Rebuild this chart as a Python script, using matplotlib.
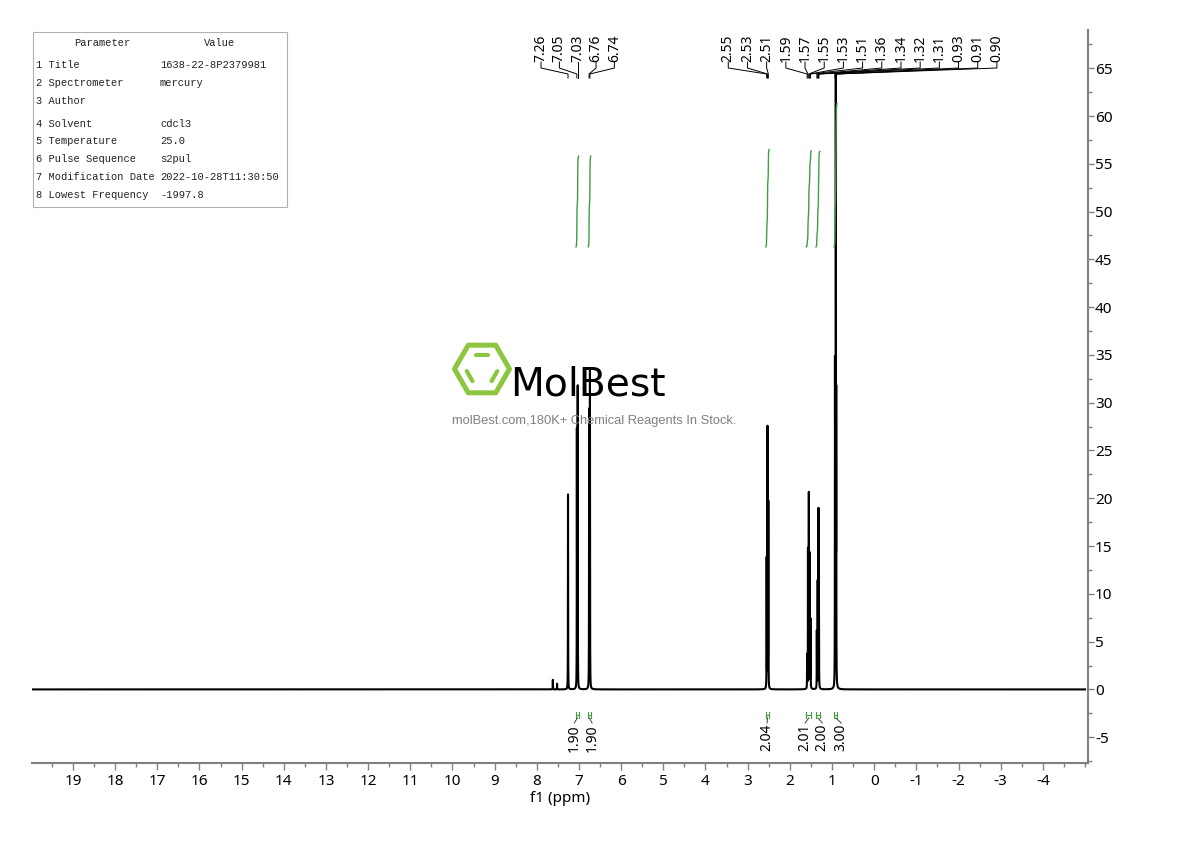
import numpy as np
import matplotlib
matplotlib.use("Agg")
import matplotlib.pyplot as plt
from matplotlib import font_manager
from matplotlib.patches import Polygon, Rectangle
from matplotlib.ticker import MultipleLocator, FixedLocator

plt.rcParams["axes.unicode_minus"] = False

# peak list (ppm, apparent height)
peak_ppm = [7.62, 7.52, 7.26, 7.05, 7.03, 6.76, 6.74,
            2.55, 2.53, 2.51,
            1.59, 1.57, 1.55, 1.53, 1.51,
            1.36, 1.34, 1.32, 1.31,
            0.93, 0.91, 0.90]
peak_height = [1.0, 0.6, 20.4, 27.0, 31.5, 29.0, 33.0,
               13.5, 27.2, 19.4,
               3.5, 14.5, 20.3, 14.0, 7.2,
               6.0, 11.1, 18.4, 9.6,
               34.0, 62.6, 28.8]

# peak picking labels
label_group1 = [7.26, 7.05, 7.03, 6.76, 6.74]
label_group2 = [2.55, 2.53, 2.51, 1.59, 1.57, 1.55, 1.53, 1.51,
                1.36, 1.34, 1.32, 1.31, 0.93, 0.91, 0.90]

# integrals
int_from = [7.07, 6.78, 2.57, 1.61, 1.38, 0.95]
int_to = [7.01, 6.72, 2.49, 1.49, 1.29, 0.88]
int_value = [1.90, 1.90, 2.04, 2.01, 2.00, 3.00]

# parameter table
param_names = ["1 Title", "2 Spectrometer", "3 Author", "4 Solvent", "5 Temperature",
               "6 Pulse Sequence", "7 Modification Date", "8 Lowest Frequency"]
param_values = ["1638-22-8P2379981", "mercury", "", "cdcl3", "25.0",
                "s2pul", "2022-10-28T11:30:50", "-1997.8"]

W, H = 1190, 841
fig = plt.figure(figsize=(W / 100, H / 100), dpi=100)
ax = fig.add_axes([32 / W, 1 - 763 / H, (1088 - 32) / W, (763 - 30) / H])

# spectrum from the peak list
x = np.linspace(20, -5, 50001)
y = np.zeros_like(x)
hw = 0.0022
for p, h in zip(peak_ppm, peak_height):
    y += h / (1 + ((x - p) / hw) ** 2)
ax.plot(x, y, color="black", lw=1.5)

ax.set_xlim(19.97, -5.07)
ax.set_ylim(-7.7, 69)


def fy(py):
    # pixel row -> axes fraction
    return (763 - py) / 733


tr = ax.get_xaxis_transform()
green = "#3f9f3f"

# integral curves and labels
int_label_x = [7.11, 6.69, 2.54, 1.64, 1.23, 0.78]
for a, b, v, lx in zip(int_from, int_to, int_value, int_label_x):
    m = (x <= a) & (x >= b)
    c = np.cumsum(y[m])
    c = c / c[-1] * v * 5 + 46.3
    ax.plot(x[m], c, color=green, lw=1)
    ax.plot([a, b], [fy(715), fy(715)], color=green, lw=0.8, transform=tr, clip_on=False)
    for e in (a, b):
        ax.plot([e, e], [fy(712), fy(718)], color=green, lw=0.8, transform=tr, clip_on=False)
    mid = (a + b) / 2
    ax.plot([mid, lx], [fy(718), fy(723)], color="#404040", lw=0.7, transform=tr, clip_on=False)
    ax.text(lx, fy(724), f"{v:.2f}", rotation=90, ha="center", va="top",
            fontsize=10, family="Noto Sans", transform=tr, clip_on=False)

# peak labels with connectors
for grp, start, step in ((label_group1, 7.90, 0.435), (label_group2, 3.46, 0.455)):
    for i, p in enumerate(grp):
        lx = start - i * step
        ax.text(lx, fy(62), f"{p:.2f}", rotation=90, ha="center", va="bottom",
                fontsize=10, family="Noto Sans", transform=tr, clip_on=False)
        ax.plot([lx, lx, p, p], [fy(62), fy(68), fy(74), fy(78)], color="black",
                lw=0.7, transform=tr, clip_on=False)

# axes styling
for s in ("left", "top"):
    ax.spines[s].set_visible(False)
for s in ("bottom", "right"):
    ax.spines[s].set_color("#808080")
    ax.spines[s].set_linewidth(1.5)
ax.yaxis.tick_right()
ax.xaxis.set_major_locator(FixedLocator(range(-4, 20)))
ax.xaxis.set_minor_locator(MultipleLocator(0.5))
ax.yaxis.set_major_locator(FixedLocator(range(-5, 70, 5)))
ax.yaxis.set_minor_locator(MultipleLocator(2.5))
ax.tick_params(axis="x", which="major", length=5, width=1, color="#808080", pad=3,
               labelsize=11)
ax.tick_params(axis="x", which="minor", length=3, width=1, color="#808080")
ax.tick_params(axis="y", which="major", length=4, width=1, color="#808080", pad=1,
               labelsize=11)
ax.tick_params(axis="y", which="minor", length=3, width=1, color="#808080")
for lab in ax.get_xticklabels() + ax.get_yticklabels():
    lab.set_family("Noto Sans")
ax.set_xlabel("f1 (ppm)", fontsize=11, family="Noto Sans", labelpad=1)

# overlay in pixel coordinates: parameter table and watermark
ov = fig.add_axes([0, 0, 1, 1], facecolor="none")
ov.set_xlim(0, W)
ov.set_ylim(H, 0)
ov.axis("off")

ov.add_patch(Rectangle((33, 32), 254, 175, fill=False, ec="#b0b0b0", lw=0.8))
mono = dict(family="Liberation Mono", fontsize=7.5, va="center", color="#222222")
ov.text(102, 43, "Parameter", ha="center", **mono)
ov.text(220, 43, "Value", ha="center", **mono)
row_y = [65, 83, 101, 124, 141, 159, 177, 195]
for ry, n, v in zip(row_y, param_names, param_values):
    ov.text(36, ry, n, ha="left", **mono)
    ov.text(160, ry, v, ha="left", **mono)

# watermark logo
lg = "#8cc63f"
cx, cy, R = 482, 369, 27.5
ang = np.deg2rad(np.arange(0, 360, 60))
hexv = np.column_stack([cx + R * np.cos(ang), cy + R * np.sin(ang)])
ov.add_patch(Polygon(hexv, closed=True, fill=False, ec=lg, lw=3.6, joinstyle="round"))
r = 0.6 * R
inner = np.column_stack([cx + r * np.cos(ang), cy + r * np.sin(ang)])
for i0, i1 in ((4, 5), (2, 3), (0, 1)):
    p0, p1 = inner[i0], inner[i1]
    q0 = p0 + 0.15 * (p1 - p0)
    q1 = p0 + 0.85 * (p1 - p0)
    ov.plot([q0[0], q1[0]], [q0[1], q1[1]], color=lg, lw=3, solid_capstyle="round")

names = {f.name for f in font_manager.fontManager.ttflist}
logo_family = "Liberation Sans Narrow" if "Liberation Sans Narrow" in names else "DejaVu Sans"
t = ov.text(510, 395, "MolBest", family=logo_family, fontsize=36, ha="left",
            va="baseline", color="black")
fig.canvas.draw()
bw = t.get_window_extent().width
t.set_fontsize(36 * 156 / bw)
ov.text(594, 421, "molBest.com,180K+ Chemical Reagents In Stock.", family="Liberation Sans",
        fontsize=9.3, ha="center", va="center", color="#808080")

fig.savefig("out.png", dpi=100)
